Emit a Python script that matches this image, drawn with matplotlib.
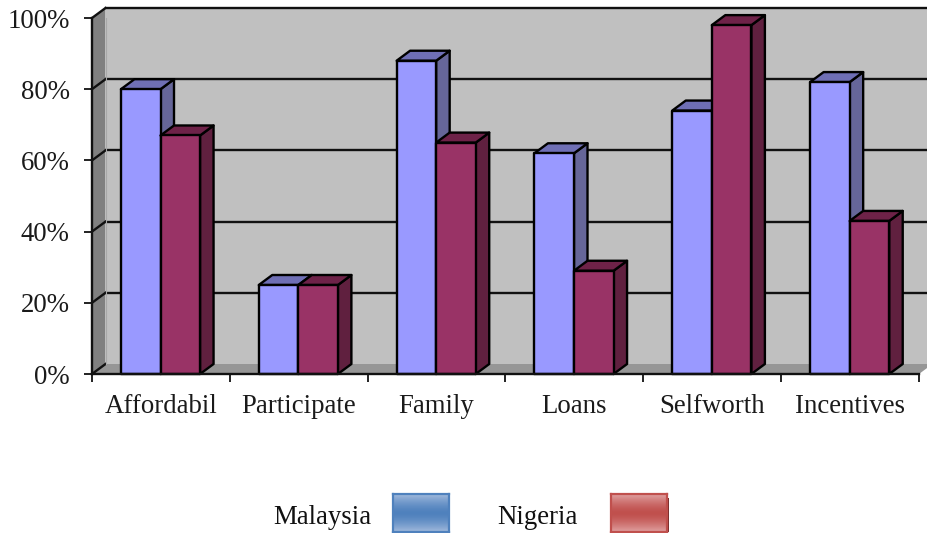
import numpy as np
import matplotlib
matplotlib.use('Agg')
import matplotlib.pyplot as plt
from matplotlib.patches import Polygon

plt.rcParams['font.family'] = ['Liberation Serif', 'DejaVu Serif']

categories = ['Affordabil', 'Participate', 'Family', 'Loans', 'Selfworth', 'Incentives']
malaysia = [80, 25, 88, 62, 74, 82]
nigeria = [67, 25, 65, 29, 98, 43]
y_ticks = [0, 20, 40, 60, 80, 100]

W, H = 927, 533
fig = plt.figure(figsize=(W / 100, H / 100), dpi=100)
# axes box = front plane of the 3D plot
ax = fig.add_axes([92 / W, 1 - 374 / H, (919 - 92) / W, (374 - 18) / H])
ax.set_xlim(0, 6)
ax.set_ylim(0, 100)
ax.patch.set_visible(False)

# depth of the fake 3D in data units
dx = 13.5 / (827 / 6)
dy = 10 / 3.56
bar_w = 0.287
start = 0.21
lw = 1.7


def poly(pts, fc, ec='none', z=1):
    ax.add_patch(Polygon(pts, closed=True, fc=fc, ec=ec, lw=lw, zorder=z,
                         clip_on=False, joinstyle='round'))


# walls
poly([(dx, dy), (6.2, dy), (6.2, 100 + dy), (dx, 100 + dy)], '#c0c0c0', z=1)
poly([(0, 0), (dx, dy), (dx, 100 + dy), (0, 100)], '#808080', z=1)
poly([(0, 0), (6, 0), (6 + dx, dy), (dx, dy)], '#969696', z=1)

# gridlines on back and side wall
for t in y_ticks:
    if t > 0:
        ax.plot([dx, 6.2], [t + dy, t + dy], color='#111111', lw=lw, zorder=2, clip_on=False)
    ax.plot([0, dx], [t, t + dy], color='#111111', lw=lw, zorder=2, clip_on=False)
ax.plot([dx, dx], [0 + dy, 100 + dy], color='#a8a8a8', lw=0.8, zorder=2)


def bar3d(x, v, front, side, top):
    poly([(x + bar_w, 0), (x + bar_w + dx, dy), (x + bar_w + dx, v + dy), (x + bar_w, v)],
         side, ec='black', z=3)
    poly([(x, v), (x + dx, v + dy), (x + bar_w + dx, v + dy), (x + bar_w, v)],
         top, ec='black', z=3)
    poly([(x, 0), (x + bar_w, 0), (x + bar_w, v), (x, v)], front, ec='black', z=3)


for i in range(len(categories)):
    bar3d(i + start, malaysia[i], '#9999ff', '#666699', '#6f6fb5')
    bar3d(i + start + bar_w, nigeria[i], '#993366', '#60203f', '#6e2248')

# axes, ticks
for s in ['top', 'right']:
    ax.spines[s].set_visible(False)
for s in ['left', 'bottom']:
    ax.spines[s].set_linewidth(lw)
    ax.spines[s].set_color('#111111')
    ax.spines[s].set_zorder(5)
ax.set_yticks(y_ticks)
ax.set_yticklabels([f'{t}%' for t in y_ticks], fontsize=19.3, color='#1a1a1a')
ax.set_xticks(range(7))
ax.set_xticklabels([])
ax.set_xticks(np.arange(6) + 0.5, minor=True)
ax.set_xticklabels(categories, minor=True, fontsize=19.3, color='#1a1a1a')
ax.tick_params(axis='x', which='major', length=6, width=1.3, color='#111111')
ax.tick_params(axis='x', which='minor', length=0, pad=14.5)
ax.tick_params(axis='y', length=6, width=1.3, color='#111111', pad=10)

# legend
fig.text(273 / W, 1 - 517 / H, 'Malaysia', fontsize=19.3, color='#111111', va='center')
fig.text(497 / W, 1 - 517 / H, 'Nigeria', fontsize=19.3, color='#111111', va='center')


def swatch(x0, edge, light, mid, shadow):
    # thin dark shadow on the right side
    sh = fig.add_axes([(x0 + 56) / W, 1 - 532 / H, 1.5 / W, 34 / H])
    sh.set_facecolor(shadow)
    sh.set_xticks([])
    sh.set_yticks([])
    for s in sh.spines.values():
        s.set_visible(False)
    a = fig.add_axes([x0 / W, 1 - 532 / H, 56 / W, 38 / H])
    c0 = np.array(matplotlib.colors.to_rgb(light))
    c1 = np.array(matplotlib.colors.to_rgb(mid))
    t = np.abs(np.linspace(-1, 1, 38))[:, None, None] ** 1.5
    a.imshow(c1 + (c0 - c1) * t, aspect='auto')
    a.set_xticks([])
    a.set_yticks([])
    for s in a.spines.values():
        s.set_color(edge)
        s.set_linewidth(1.6)


swatch(393, '#4f81bd', '#a0b9dc', '#4f81bd', '#2c4d75')
swatch(611, '#c0504d', '#e0a0a0', '#c0504d', '#772c2a')

fig.savefig('out.png', dpi=100)
